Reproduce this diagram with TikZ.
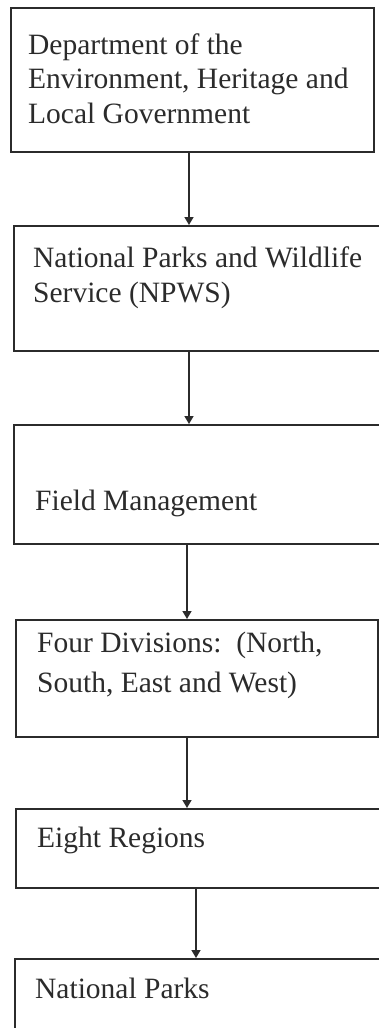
\documentclass[tikz,border=0pt]{standalone}
\usepackage{fontspec}
\setmainfont{Liberation Serif}
\usetikzlibrary{arrows.meta,positioning}
\definecolor{ink}{HTML}{2B2B2B}
\tikzset{frame/.style={draw=ink,line width=1.6pt,anchor=north west,inner sep=0pt},txt/.style={anchor=base west,align=left,inner sep=0pt,text=ink,font=\fontsize{29.5}{34.5}\selectfont},arr/.style={-{Triangle[width=9pt,length=8pt]},line width=1.4pt,draw=ink}}
\begin{document}
\begin{tikzpicture}[x=1pt,y=-1pt]
\useasboundingbox (0,0) rectangle (378,1028);
\node[frame,minimum width=363pt,minimum height=144pt] (dept) at (10,7) {};
\node[frame,minimum width=377pt,minimum height=125pt] (npws) at (13,225) {};
\node[frame,minimum width=377pt,minimum height=119pt] (field) at (13,424) {};
\node[frame,minimum width=362pt,minimum height=117pt] (div) at (15,619) {};
\node[frame,minimum width=377pt,minimum height=79pt] (reg) at (15,808) {};
\node[frame,minimum width=377pt,minimum height=82pt] (parks) at (14,958) {};
\node[txt] (deptT) at ([shift={(18,116)}]dept.north west) {Department of the\\Environment, Heritage and\\Local Government};
\node[txt] (npwsT) at ([shift={(20,77)}]npws.north west) {National Parks and Wildlife\\Service (NPWS)};
\node[txt] (fieldT) at ([shift={(22,86)}]field.north west) {Field Management};
\node[txt,font=\fontsize{29.5}{40}\selectfont] (divT) at ([shift={(22,73)}]div.north west) {Four Divisions:\ \ (North,\\South, East and West)};
\node[txt] (regT) at ([shift={(22,39)}]reg.north west) {Eight Regions};
\node[txt] (parksT) at ([shift={(21,40)}]parks.north west) {National Parks};
\draw[arr] (dept.south -| 189,0) -- (npws.north -| 189,0);
\draw[arr] (npws.south -| 189,0) -- (field.north -| 189,0);
\draw[arr] (field.south -| 187,0) -- (div.north -| 187,0);
\draw[arr] (div.south -| 187,0) -- (reg.north -| 187,0);
\draw[arr] (reg.south -| 196,0) -- (parks.north -| 196,0);
\end{tikzpicture}
\end{document}
